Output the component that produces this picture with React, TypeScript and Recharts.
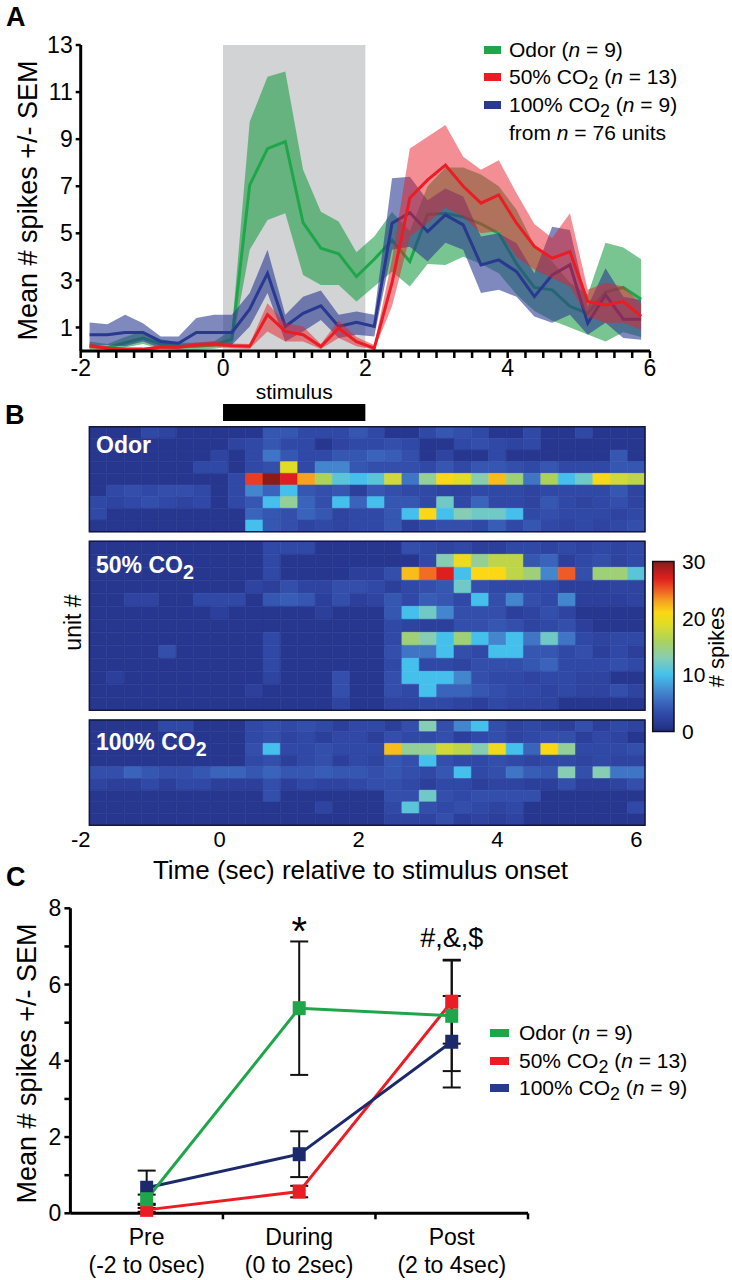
import React from "react";
import {
  ComposedChart,
  LineChart,
  Line,
  Area,
  XAxis,
  YAxis,
  ReferenceArea,
  ReferenceDot,
  ErrorBar,
} from "recharts";

const FONT = "'Liberation Sans', Arial, Helvetica, sans-serif";

const GREEN = "#1fa64a";
const RED = "#ec1c24";
const BLUE = "#28398f";
const NAVY = "#1c2a6b";

// 250 ms bins: line points sit on these times, heat cells start at them
const binTimes = [
  -1.875, -1.625, -1.375, -1.125, -0.875, -0.625, -0.375, -0.125,
  0.125, 0.375, 0.625, 0.875, 1.125, 1.375, 1.625, 1.875,
  2.125, 2.375, 2.625, 2.875, 3.125, 3.375, 3.625, 3.875,
  4.125, 4.375, 4.625, 4.875, 5.125, 5.375, 5.625, 5.875,
];
const BIN = 0.25;
const stimulusWindow = [0, 2];
const timeTicks = [
  -2, -1.75, -1.5, -1.25, -1, -0.75, -0.5, -0.25, 0, 0.25, 0.5, 0.75, 1, 1.25, 1.5, 1.75,
  2, 2.25, 2.5, 2.75, 3, 3.25, 3.5, 3.75, 4, 4.25, 4.5, 4.75, 5, 5.25, 5.5, 5.75, 6,
];
const heatTicks = [-2, 0, 2, 4, 6];
const spikeTicksA = [1, 3, 5, 7, 9, 11, 13];

// panel A: mean # spikes and SEM band per bin
const odorMean = [0.2, 0.15, 0.35, 0.55, 0.3, 0.2, 0.2, 0.25, 0.5, 7.05, 8.6, 8.9, 5.45, 4.37, 4.13, 3.16, 3.9, 4.7, 3.8, 5.8, 5.85, 5.7, 5.4, 5.0, 3.7, 2.7, 2.6, 1.9, 1.6, 2.5, 2.7, 2.2];
const odorLow = [0.05, 0.05, 0.15, 0.3, 0.1, 0.05, 0.05, 0.1, 0.2, 4.3, 5.57, 5.85, 3.23, 2.8, 2.8, 2.1, 2.74, 3.37, 2.74, 3.7, 3.65, 4.0, 3.7, 3.3, 2.4, 1.7, 1.3, 1.0, 0.7, 0.4, 0.8, 0.6];
const odorHigh = [0.4, 0.3, 0.6, 0.85, 0.5, 0.35, 0.35, 0.4, 0.9, 9.74, 11.65, 11.87, 7.7, 5.92, 5.5, 4.2, 4.86, 5.9, 5.1, 7.0, 7.8, 7.8, 7.5, 7.0, 6.0, 4.5, 3.8, 2.9, 2.4, 4.6, 4.4, 3.9];

const co2_50Mean = [0.22, 0.12, 0.08, 0.08, 0.16, 0.16, 0.26, 0.3, 0.22, 0.2, 1.54, 0.83, 0.69, 0.19, 0.97, 0.4, 0.12, 2.9, 6.5, 7.27, 7.9, 7.0, 6.28, 6.63, 5.43, 4.44, 3.94, 4.22, 2.1, 1.96, 2.1, 1.47];
const co2_50Low = [0.12, 0.05, 0.02, 0.02, 0.08, 0.08, 0.16, 0.18, 0.12, 0.1, 0.83, 0.4, 0.4, 0.08, 0.55, 0.2, 0.05, 1.9, 4.86, 5.44, 6.1, 5.7, 5.0, 5.1, 4.0, 3.45, 3.1, 2.74, 1.47, 1.2, 1.2, 0.9];
const co2_50High = [0.32, 0.2, 0.14, 0.14, 0.24, 0.24, 0.36, 0.42, 0.32, 0.3, 2.03, 1.18, 1.04, 0.3, 1.3, 0.6, 0.25, 3.9, 8.6, 9.1, 9.6, 8.25, 7.7, 8.1, 6.7, 5.4, 4.8, 5.85, 2.6, 2.9, 2.74, 2.0];

const co2_100Mean = [0.69, 0.69, 0.79, 0.79, 0.4, 0.33, 0.79, 0.79, 0.79, 1.78, 3.3, 1.04, 1.6, 1.92, 1.04, 1.22, 1.04, 5.43, 5.88, 5.07, 5.78, 5.36, 3.66, 3.87, 3.37, 2.31, 3.23, 3.66, 1.18, 2.38, 1.35, 1.35];
const co2_100Low = [0.26, 0.26, 0.2, 0.4, 0.12, 0.12, 0.2, 0.26, 0.26, 1.04, 2.46, 0.4, 0.83, 1.32, 0.55, 0.69, 0.62, 4.3, 4.43, 3.8, 4.6, 4.3, 2.46, 2.6, 2.3, 1.47, 1.2, 1.54, 0.69, 1.2, 0.55, 0.48];
const co2_100High = [1.21, 1.14, 1.54, 1.18, 0.62, 0.62, 1.4, 1.54, 1.54, 2.46, 4.3, 1.54, 2.3, 2.57, 1.54, 1.68, 1.54, 7.34, 7.4, 6.4, 6.9, 6.56, 4.86, 5.0, 4.58, 3.3, 5.28, 5.14, 1.89, 3.52, 2.31, 2.17];

// panel B: spikes per unit (rows) and bin (columns)
const odorUnits = [
  [1, 1, 1, 3, 2.5, 1, 1, 1, 1, 1, 4, 4, 3, 3, 3, 4, 3, 1, 1, 3, 4, 3.5, 3, 1, 1, 3, 1, 1, 3, 1, 1, 1],
  [1, 1, 1, 1, 1, 1, 1, 1, 2.5, 3, 4, 3, 3, 1, 2.5, 3, 3, 3.5, 3, 1, 1, 3, 3.5, 3, 2.5, 3, 1, 1, 1, 1, 1, 1],
  [1, 1, 1, 1, 1, 1, 1, 2.5, 1, 3, 6, 4, 3, 3, 4, 4, 5, 4.5, 3.5, 1, 2.5, 1, 1, 3, 1, 1, 1, 1, 1, 1, 4, 1],
  [1, 1, 1, 1, 1, 1, 3, 3, 1, 3, 3.5, 19, 3, 7, 7, 4, 3.5, 3.5, 3.5, 3, 4, 3, 4, 4, 3.5, 3, 4, 3, 3, 3, 4, 4],
  [1, 1, 1, 1, 1, 1, 1, 1, 3, 26, 30, 27, 23, 16, 11, 10, 11, 18, 6, 14, 21, 19, 13, 22, 15, 6, 16, 10, 12, 21, 18, 17],
  [1, 3, 3.5, 3, 3.5, 3.5, 3, 1, 3, 7, 5, 10, 4, 3.5, 4, 2, 4, 3.5, 3, 3, 2.5, 2.5, 3, 3, 3, 2.5, 3, 3, 3, 3, 4, 2.5],
  [3, 2.5, 3, 3.5, 3, 2.5, 3, 1, 3, 4, 10, 14, 5, 3.5, 10, 5, 10, 4, 4, 3, 12, 3, 5, 3, 3, 2.5, 4, 3, 2.5, 3, 3.5, 2.5],
  [3, 1, 1, 1, 1, 1, 1, 1, 1, 5, 4, 3.5, 5, 4, 2.5, 3, 3, 4, 10, 21, 10, 13, 12, 12, 10, 3, 3.5, 3, 3, 3, 2.5, 3],
  [1, 1, 1, 1, 1, 1, 1, 1, 1, 10, 4, 3.5, 2.5, 3, 2.5, 3, 3, 4, 2, 3, 3.5, 3.5, 3, 4.5, 3, 4, 3, 2.5, 3, 2.5, 3, 3.5],
];
const co2_50Units = [
  [1, 1, 1, 1, 1, 1, 1, 1, 1, 1, 3, 3, 3, 1, 1, 1, 1, 1, 3.5, 3, 2.5, 3, 2, 2, 3, 3, 2.5, 3, 2.5, 3, 2.5, 3],
  [1, 1, 1, 1, 1, 1, 1, 1, 1, 1, 3, 1, 1, 1, 1, 1, 1, 1, 1, 3, 13, 20, 14, 17, 17, 4, 5, 2, 3, 3.5, 2.5, 3],
  [1, 1, 1, 1, 1, 1, 1, 1, 1, 1, 3, 1, 1, 1, 1, 2, 2, 3.5, 22, 24.5, 27, 10, 21, 21, 17, 15, 7, 25, 3.5, 15, 15, 11],
  [1, 1, 1, 1, 1, 1, 1, 1, 1, 2.5, 2, 3.5, 2.5, 2.5, 3.5, 3.5, 3, 2, 3, 3.5, 4, 12, 3.5, 3, 3, 3, 3, 2, 2, 2, 2.5, 2.5],
  [1, 1, 2.5, 2.5, 1, 1, 3, 3, 3, 1, 4, 4.5, 4, 2, 3.5, 2, 2.5, 4, 3, 4.5, 4, 3, 10, 3.5, 7, 3.5, 3, 7, 2, 2, 2, 2.5],
  [1, 1, 1, 1, 1, 1, 1, 2, 1, 1, 1, 1, 1, 2, 1, 1, 1, 4, 10, 12, 7, 3.5, 3.5, 3.5, 2, 2.5, 3.5, 2.5, 1, 1, 1, 1],
  [1, 1, 1, 1, 1, 1, 1, 1, 1, 1, 1, 1, 1, 1, 1, 1, 1, 3, 2.5, 2, 2, 3.5, 3.5, 4, 3.5, 2.5, 3, 3.5, 2, 1, 1, 1],
  [1, 1, 1, 1, 1, 1, 1, 1, 1, 1, 3, 1, 1, 1, 1, 1, 1, 3, 15, 13, 10, 15, 10, 7, 10, 6, 12, 6, 3, 2.5, 3, 3],
  [1, 1, 1, 1, 3.5, 1, 1, 1, 1, 1, 3, 1, 1, 1, 1, 1, 1, 3.5, 6, 6, 10, 3.5, 3, 10, 10, 4, 4, 3, 3.5, 2, 3, 2],
  [1, 1, 1, 1, 1, 1, 1, 1, 1, 1, 3, 1, 1, 1, 1, 1, 1, 3, 10, 3, 3, 2.5, 3.5, 3.5, 3.5, 4, 5, 3, 3, 3, 3.5, 3],
  [1, 2, 1, 1, 1, 1, 1, 1, 1, 1, 2.5, 1, 1, 1, 3.5, 1, 1, 3.5, 10, 10, 10, 7, 3.5, 3, 3, 2.5, 3, 3, 2.5, 2.5, 1, 1],
  [1, 1, 1, 1, 1, 1, 1, 1, 1, 2, 1, 1, 1, 1, 3.5, 1, 1, 3.5, 3, 10, 5, 5, 4, 3.5, 3, 3, 2.5, 3, 2.5, 2.5, 3.5, 2.5],
  [1, 1, 1, 1, 1, 1, 1, 1, 1, 1, 1, 1, 1, 1, 2.5, 1, 1, 2.5, 2.5, 3, 3, 2.5, 2, 3, 2.5, 2.5, 2.5, 1, 1, 1, 1, 1],
];
const co2_100Units = [
  [1, 1, 1, 1, 3, 3, 1, 1, 1, 3, 3.5, 3, 3.5, 3, 2, 3, 3, 2, 3.5, 13, 3.5, 7, 10, 3.5, 2.5, 3, 2.5, 2, 3.5, 2, 3, 2.5],
  [1, 1, 1, 1, 1, 1, 1, 1, 1, 3, 3.5, 2.5, 3, 2, 3, 3, 2, 3.5, 3, 3, 3.5, 2, 3, 3.5, 2.5, 3, 3.5, 3.5, 2, 3, 2.5, 1],
  [1, 1, 1, 1, 1, 1, 1, 1, 1, 3.5, 10, 3, 3, 3.5, 3, 3, 3, 22, 14, 14, 18, 17, 13, 20, 10, 5, 21, 14, 3, 3, 3, 3.5],
  [1, 1, 1, 1, 1, 1, 1, 1, 1, 3, 3.5, 2, 3, 3.5, 2, 3, 2.5, 4, 3.5, 10, 3.5, 3, 3, 3.5, 3, 2.5, 3, 3, 2.5, 3, 2.5, 2.5],
  [3.5, 3.5, 5, 4, 3.5, 3.5, 4, 5, 5, 4, 5, 4, 4, 4.5, 4, 4, 3.5, 4, 3.5, 3, 4, 10, 3, 3.5, 6, 4.5, 4, 13, 3.5, 13, 6, 6],
  [2.5, 2, 2, 3, 2, 3, 3, 2, 2, 2, 3.5, 2, 3, 2.5, 2.5, 3, 3.5, 3.5, 3, 2, 3, 3, 2, 2.5, 2.5, 2, 2, 3.5, 2, 2, 2.5, 3.5],
  [1, 1, 1, 1, 1, 1, 1, 1, 1, 1, 3.5, 1, 1, 1, 1, 1, 1, 3.5, 3.5, 12, 3.5, 3, 3.5, 3.5, 3.5, 3.5, 1, 1, 1, 1, 1, 1],
  [1, 1, 1, 1, 1, 1, 1, 1, 1, 1, 1, 1, 1, 2.5, 1, 1, 1, 3, 11, 3.5, 3, 3.5, 3, 2.5, 3, 1, 1, 1, 1, 1, 1, 3],
  [1, 1, 1, 1, 1, 1, 1, 1, 1, 1, 1, 1, 1, 1, 1, 1, 1, 2.5, 2.5, 2.5, 3.5, 2, 2.5, 2, 2.5, 1, 1, 1, 1, 1, 1, 1],
];
const colorbarTicks = [0, 10, 20, 30];

// panel C: mean # spikes per epoch
const stageX = [0.5, 1.5, 2.5];
const stageNames = ["Pre", "During", "Post"];
const stageRanges = ["(-2 to 0sec)", "(0 to 2sec)", "(2 to 4sec)"];
const odorStage = [0.37, 5.38, 5.18];
const odorStageSem = [0.12, 1.75, 1.45];
const co2_50Stage = [0.09, 0.57, 5.55];
const co2_50StageSem = [0.05, 0.15, 1.1];
const co2_100Stage = [0.67, 1.55, 4.5];
const co2_100StageSem = [0.45, 0.6, 1.2];
const spikeTicksC = [0, 1, 2, 3, 4, 5, 6, 7, 8];

// jet-like scale used by the heat maps and the colour bar
const heatStops: [number, string][] = [
  [0, "#202a7a"], [1, "#27378f"], [3, "#3048a6"], [5, "#3a64bb"], [7, "#4386cd"],
  [10, "#45c0ec"], [13, "#86cdb3"], [16, "#acd25b"], [19, "#e2dc25"], [21, "#fbd716"],
  [23, "#f6a21f"], [25, "#ee5b24"], [27, "#df1f1f"], [30, "#8b1a1a"],
];

function hexToRgb(h: string) {
  return [1, 3, 5].map((i) => parseInt(h.slice(i, i + 2), 16));
}

function heatColor(v: number) {
  for (let i = 1; i < heatStops.length; i++) {
    const [v1, c1] = heatStops[i];
    if (v <= v1) {
      const [v0, c0] = heatStops[i - 1];
      const f = (v - v0) / (v1 - v0);
      const a = hexToRgb(c0);
      const b = hexToRgb(c1);
      return `rgb(${a.map((x, k) => Math.round(x + (b[k] - x) * f)).join(",")})`;
    }
  }
  return heatStops[heatStops.length - 1][1];
}

const axisStroke = { stroke: "#000", strokeWidth: 3 };
const tickStroke = { stroke: "#000", strokeWidth: 2.5 };
const tickText = { fill: "#000", fontSize: 23, fontFamily: FONT };

function Chem({ name }: { name: string }) {
  if (!name.endsWith("CO2")) return <>{name}</>;
  return (
    <>
      {name.slice(0, -1)}
      <span style={{ fontSize: "0.85em", position: "relative", top: "0.3em" }}>2</span>
    </>
  );
}

const seriesNames = ["Odor", "50% CO2", "100% CO2"];
const seriesN = [9, 13, 9];
const seriesColors = [GREEN, RED, BLUE];

function Legend({ left, rowTops, swatchW, textGap }: { left: number; rowTops: number[]; swatchW: number; textGap: number }) {
  return (
    <>
      {seriesNames.map((name, i) => (
        <div key={name} style={{ position: "absolute", left, top: rowTops[i], height: 24, display: "flex", alignItems: "center", fontSize: 21, lineHeight: "24px", whiteSpace: "nowrap" }}>
          <span style={{ display: "inline-block", width: swatchW, height: 8, background: seriesColors[i], marginRight: textGap }} />
          <span>
            <Chem name={name} /> (<i>n</i> = {seriesN[i]})
          </span>
        </div>
      ))}
    </>
  );
}

function Rotated({ cx, cy, size, children }: { cx: number; cy: number; size: number; children: React.ReactNode }) {
  return (
    <div style={{ position: "absolute", left: cx - 200, top: cy - size / 2, width: 400, height: size, lineHeight: `${size}px`, fontSize: size, textAlign: "center", transform: "rotate(-90deg)", whiteSpace: "nowrap" }}>
      {children}
    </div>
  );
}

function PanelA() {
  const rows = binTimes.map((t, i) => ({
    t,
    odor: odorMean[i],
    odorBand: [odorLow[i], odorHigh[i]],
    co2_50: co2_50Mean[i],
    co2_50Band: [co2_50Low[i], co2_50High[i]],
    co2_100: co2_100Mean[i],
    co2_100Band: [co2_100Low[i], co2_100High[i]],
  }));
  return (
    <ComposedChart width={732} height={400} data={rows} margin={{ top: 45, right: 82, bottom: 19, left: 0 }}>
      <XAxis dataKey="t" type="number" domain={[-2, 6]} ticks={timeTicks} interval={0}
        tickFormatter={(v: number) => (v % 2 === 0 ? String(v) : "")}
        height={30} tickSize={7} tickMargin={2} axisLine={axisStroke} tickLine={tickStroke} tick={tickText} />
      <YAxis type="number" domain={[0, 13]} ticks={spikeTicksA} interval={0} width={80.7}
        tickSize={5} tickMargin={3} axisLine={axisStroke} tickLine={tickStroke} tick={tickText} />
      <ReferenceArea x1={stimulusWindow[0]} x2={stimulusWindow[1]} y1={0} y2={13} fill="#d1d3d4" fillOpacity={1} stroke="none" zIndex={0} />
      <Area dataKey="odorBand" type="linear" fill="#1f9f48" fillOpacity={0.6} stroke="none" activeDot={false} isAnimationActive={false} zIndex={101} />
      <Line dataKey="odor" type="linear" stroke={GREEN} strokeWidth={3} dot={false} activeDot={false} isAnimationActive={false} zIndex={102} />
      <Area dataKey="co2_100Band" type="linear" fill="#2a3b91" fillOpacity={0.6} stroke="none" activeDot={false} isAnimationActive={false} zIndex={103} />
      <Line dataKey="co2_100" type="linear" stroke={BLUE} strokeWidth={3} dot={false} activeDot={false} isAnimationActive={false} zIndex={104} />
      <Area dataKey="co2_50Band" type="linear" fill="#e8202a" fillOpacity={0.5} stroke="none" activeDot={false} isAnimationActive={false} zIndex={105} />
      <Line dataKey="co2_50" type="linear" stroke={RED} strokeWidth={3} dot={false} activeDot={false} isAnimationActive={false} zIndex={106} />
    </ComposedChart>
  );
}

function StimulusBar() {
  const rows = stimulusWindow.map((t) => ({ t, y: 0 }));
  return (
    <ComposedChart width={732} height={46} data={rows} margin={{ top: 27, right: 82, bottom: 2, left: 80.7 }}>
      <XAxis dataKey="t" type="number" domain={[-2, 6]} hide allowDataOverflow />
      <YAxis dataKey="y" type="number" domain={[0, 1]} hide allowDataOverflow />
      <ReferenceArea x1={stimulusWindow[0]} x2={stimulusWindow[1]} y1={0} y2={1} fill="#000" fillOpacity={1} stroke="none"
        label={{ value: "stimulus", position: "top", offset: 5, fill: "#000", fontSize: 21, fontFamily: FONT }} />
    </ComposedChart>
  );
}

function Heatmap({ units, height, top, bottom, showTime }: { units: number[][]; height: number; top: number; bottom: number; showTime?: boolean }) {
  const n = units.length;
  const rows = binTimes.map((t) => ({ t, unit: 0 }));
  return (
    <ComposedChart width={732} height={height} data={rows} margin={{ top, right: 87, bottom, left: 80.7 }}>
      <XAxis dataKey="t" type="number" domain={[-2, 6.125]} allowDataOverflow hide={!showTime} ticks={heatTicks} interval={0}
        axisLine={false} tickLine={false} tickSize={0} tickMargin={6} height={40} tick={{ ...tickText, fontSize: 22 }} />
      <YAxis dataKey="unit" type="number" domain={[0, n]} reversed hide allowDataOverflow />
      {units.flatMap((row, r) =>
        row.map((v, c) => (
          <ReferenceArea key={`${r}-${c}`} x1={binTimes[c]} x2={binTimes[c] + BIN} y1={r} y2={r + 1}
            fill={heatColor(v)} fillOpacity={1} stroke={heatColor(v)} strokeWidth={0.6} />
        ))
      )}
      <ReferenceArea x1={binTimes[0]} x2={binTimes[binTimes.length - 1] + BIN} y1={0} y2={n}
        fill="none" stroke="#15183a" strokeWidth={1.5} zIndex={150} />
    </ComposedChart>
  );
}

function ColorBar() {
  const rows = colorbarTicks.map((v) => ({ x: 0.5, v }));
  return (
    <ComposedChart width={112} height={200} data={rows} margin={{ top: 11.5, right: 0, bottom: 18.5, left: 32.7 }}>
      <defs>
        <linearGradient id="spikeScale" x1="0" y1="1" x2="0" y2="0">
          {heatStops.map(([v, c]) => (
            <stop key={v} offset={v / 30} stopColor={c} />
          ))}
        </linearGradient>
      </defs>
      <XAxis dataKey="x" type="number" domain={[0, 1]} hide allowDataOverflow />
      <YAxis dataKey="v" type="number" orientation="right" domain={[0, 30]} ticks={colorbarTicks} interval={0} width={58}
        axisLine={false} tickLine={false} tickSize={0} tickMargin={8} tick={{ ...tickText, fontSize: 21 }} />
      <ReferenceArea x1={0} x2={1} y1={0} y2={30} fill="url(#spikeScale)" fillOpacity={1} stroke="#111" strokeWidth={1.5} />
    </ComposedChart>
  );
}

function StageTick(props: any) {
  const { x, y, payload } = props;
  const i = stageX.indexOf(payload.value);
  if (i < 0) return <line x1={x} x2={x} y1={y} y2={y + 6} stroke="#000" strokeWidth={2.5} />;
  return (
    <g fontFamily={FONT} fontSize={23} fill="#000" textAnchor="middle">
      <text x={x} y={y + 32}>{stageNames[i]}</text>
      <text x={x} y={y + 60}>{stageRanges[i]}</text>
    </g>
  );
}

function PanelC() {
  const rows = stageX.map((x, i) => ({
    x,
    odor: odorStage[i],
    odorSem: odorStageSem[i],
    co2_50: co2_50Stage[i],
    co2_50Sem: co2_50StageSem[i],
    co2_100: co2_100Stage[i],
    co2_100Sem: co2_100StageSem[i],
  }));
  const square = (fill: string) => (p: any) => (
    <rect key={p.index} x={p.cx - 6.5} y={p.cy - 7} width={13} height={14} fill={fill} />
  );
  const note = (text: string, size: number) => (p: any) => (
    <text x={p.cx} y={p.cy} textAnchor="middle" fontSize={size} fontFamily={FONT} fill="#000">{text}</text>
  );
  return (
    <LineChart width={732} height={420} data={rows} margin={{ top: 48.3, right: 204, bottom: 6.7, left: 0 }}>
      <XAxis dataKey="x" type="number" domain={[0, 3]} ticks={[0.5, 1, 1.5, 2, 2.5, 3]} interval={0}
        height={60} tickSize={0} tickMargin={0} tickLine={false} axisLine={axisStroke} tick={(p: any) => <StageTick {...p} />} />
      <YAxis type="number" domain={[0, 8]} ticks={spikeTicksC} interval={0} width={70.4}
        tickFormatter={(v: number) => (v % 2 === 0 ? String(v) : "")}
        tickSize={6} tickMargin={3} axisLine={axisStroke} tickLine={tickStroke} tick={tickText} />
      <ReferenceDot x={1.5} y={7.05} r={0} shape={note("*", 40)} />
      <ReferenceDot x={2.5} y={6.99} r={0} shape={note("#,&,$", 27)} />
      <Line dataKey="co2_50" type="linear" stroke={RED} strokeWidth={3} dot={square(RED)} activeDot={false} isAnimationActive={false}>
        <ErrorBar dataKey="co2_50Sem" width={9} stroke="#111" strokeWidth={2} direction="y" />
      </Line>
      <Line dataKey="co2_100" type="linear" stroke={NAVY} strokeWidth={3} dot={square(NAVY)} activeDot={false} isAnimationActive={false}>
        <ErrorBar dataKey="co2_100Sem" width={9} stroke="#111" strokeWidth={2} direction="y" />
      </Line>
      <Line dataKey="odor" type="linear" stroke={GREEN} strokeWidth={3} dot={square(GREEN)} activeDot={false} isAnimationActive={false}>
        <ErrorBar dataKey="odorSem" width={9} stroke="#111" strokeWidth={2} direction="y" />
      </Line>
    </LineChart>
  );
}

const abs = (left: number, top: number): React.CSSProperties => ({ position: "absolute", left, top });
const panelLetter: React.CSSProperties = { fontSize: 27, fontWeight: "bold", lineHeight: 1 };
const unitLabel: React.CSSProperties = { color: "#fff", fontWeight: "bold", fontSize: 23, lineHeight: 1, whiteSpace: "nowrap" };

export default function App() {
  return (
    <div style={{ position: "absolute", left: 0, top: 0, width: 732, height: 1280, background: "#fff", fontFamily: FONT, color: "#000", overflow: "hidden" }}>
      {/* A */}
      <div style={{ ...abs(6, 4), ...panelLetter }}>A</div>
      <div style={abs(0, 0)}><PanelA /></div>
      <Rotated cx={28} cy={200} size={27}>Mean # spikes +/- SEM</Rotated>
      <Legend left={484} rowTops={[38, 65, 93]} swatchW={17} textGap={8} />
      <div style={{ ...abs(509, 121), fontSize: 21, lineHeight: "24px", whiteSpace: "nowrap" }}>
        from <i>n</i> = 76 units
      </div>
      <div style={abs(0, 377)}><StimulusBar /></div>

      {/* B */}
      <div style={{ ...abs(5, 402), ...panelLetter }}>B</div>
      <div style={abs(0, 420)}><Heatmap units={odorUnits} height={120} top={6.7} bottom={8.3} /></div>
      <div style={abs(0, 535)}><Heatmap units={co2_50Units} height={181} top={6.3} bottom={5.7} /></div>
      <div style={abs(0, 714)}><Heatmap units={co2_100Units} height={152} top={6} bottom={0.7} showTime /></div>
      <div style={{ ...abs(96, 434.3), ...unitLabel }}>Odor</div>
      <div style={{ ...abs(96, 553.8), ...unitLabel }}><Chem name="50% CO2" /></div>
      <div style={{ ...abs(96, 731.3), ...unitLabel }}><Chem name="100% CO2" /></div>
      <Rotated cx={73} cy={622} size={23}>unit #</Rotated>
      <div style={abs(620, 550)}><ColorBar /></div>
      <Rotated cx={717} cy={647} size={22}># spikes</Rotated>
      <div style={{ ...abs(0, 857), width: 721, textAlign: "center", fontSize: 26, lineHeight: 1 }}>
        Time (sec) relative to stimulus onset
      </div>

      {/* C */}
      <div style={{ ...abs(6, 864), ...panelLetter }}>C</div>
      <div style={abs(0, 860)}><PanelC /></div>
      <Rotated cx={27} cy={1063} size={27}>Mean # spikes +/- SEM</Rotated>
      <Legend left={490} rowTops={[1021, 1049, 1076]} swatchW={19} textGap={10} />
    </div>
  );
}
